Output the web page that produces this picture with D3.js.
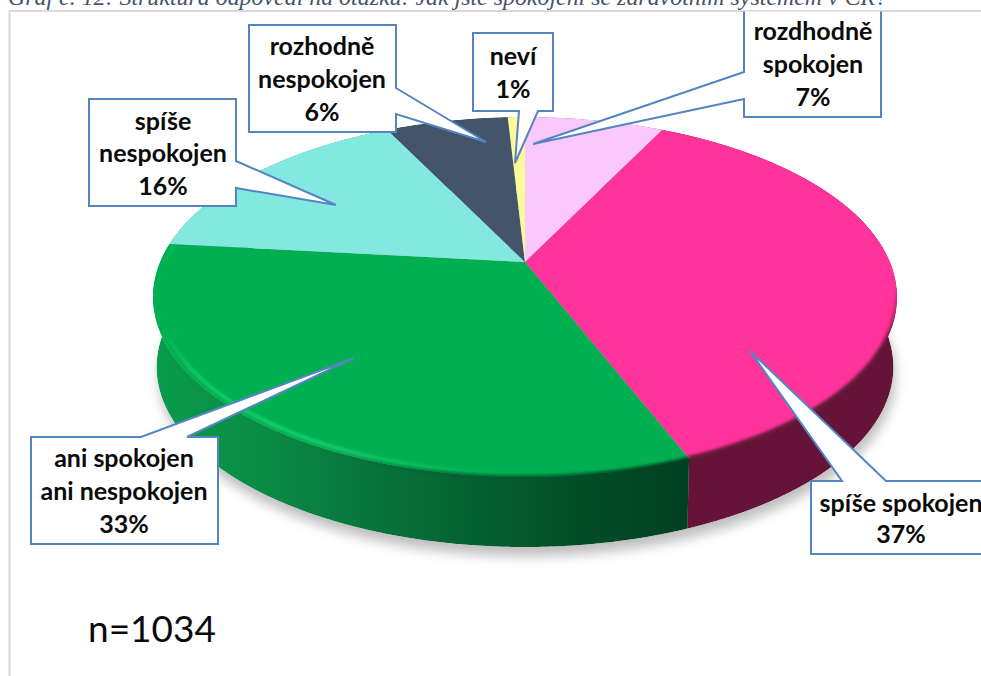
<!DOCTYPE html>
<html lang="cs">
<head>
<meta charset="utf-8">
<title>Graf č. 12</title>
<script src="https://cdn.jsdelivr.net/npm/d3@7"></script>
<style>
  html, body { margin: 0; padding: 0; background: #fff; overflow: hidden; }
  svg { display: block; }
  .box text { font-family: Lato, sans-serif; font-weight: 700; font-size: 25px; fill: #0a0a0a; text-anchor: middle; }
</style>
</head>
<body>
<script>
const categories = ['rozdhodně spokojen', 'spíše spokojen', 'ani spokojen ani nespokojen', 'spíše nespokojen', 'rozhodně nespokojen', 'neví'];
// estimated from the slice boundaries, the labels show them rounded
const percentages = [7.3, 36.7, 32.7, 16.0, 6.4, 0.9];
const sampleSize = 1034;
const chartTitle = 'Graf č. 12: Struktura odpovědí na otázku: Jak jste spokojeni se zdravotním systémem v ČR?';

const width = 981;
const height = 676;

// perspective disc: apex of the pie, half axes and tilt
const apex = { x: 525, y: 262 };
const radiusX = 365;
const radiusY = 173.2;
const tilt = 0.1945;
const depth = 70;

const topColor = d3.scaleOrdinal()
  .domain(categories)
  .range(['#fbc8fb', '#ff3399', '#00b050', '#83e8df', '#44546a', '#fbf99a']);

const sideColor = d3.scaleOrdinal()
  .domain(categories)
  .range(['#7a5a7a', '#651338', 'url(#greenSide)', '#3f7470', '#222a35', '#7d7c4d']);

const project = (angle, k = 1) => {
  const u = Math.sin(angle) * k;
  const v = -Math.cos(angle) * k;
  const w = 1 - tilt * v;
  return [apex.x + (radiusX * u) / w, apex.y + (radiusY * v) / w];
};
const dropped = ([x, y]) => [apex.x + (x - apex.x) * 0.99, y + depth];

const sampleAngles = (a0, a1) => d3.range(a0, a1, 0.01).concat([a1]);
const line = d3.line();
const closed = d3.line().curve(d3.curveLinearClosed);

const slices = d3.pie().sort(null).value((d) => d.value)(
  categories.map((c, i) => ({ name: c, value: percentages[i] })),
);

const svg = d3.select('body')
  .append('svg')
  .attr('width', width)
  .attr('height', height);

const defs = svg.append('defs');

const blur = (id, sd) => defs.append('filter')
  .attr('id', id)
  .attr('filterUnits', 'userSpaceOnUse')
  .attr('x', 0).attr('y', 0)
  .attr('width', width).attr('height', height)
  .append('feGaussianBlur')
  .attr('stdDeviation', sd);
blur('blurShadow', 6);
blur('blurRim', 1.8);

const gradient = (id, coords, stops) => {
  const g = defs.append('linearGradient')
    .attr('id', id)
    .attr('gradientUnits', 'userSpaceOnUse')
    .attr('x1', coords[0]).attr('y1', coords[1])
    .attr('x2', coords[2]).attr('y2', coords[3]);
  stops.forEach(([o, c, a]) => g.append('stop')
    .attr('offset', o)
    .attr('stop-color', c)
    .attr('stop-opacity', a === undefined ? 1 : a));
};
const across = [152, 0, 689, 0];
gradient('greenSide', across, [[0, '#0a9c4c'], [0.2, '#0a8c45'], [0.45, '#06703a'], [0.8, '#024d27'], [1, '#01401f']]);
gradient('greenGlow', across, [[0.02, '#19d46e', 0], [0.08, '#19d46e', 1], [0.3, '#1fdc78'], [0.55, '#14c866', 0.6], [0.75, '#00b050', 0]]);
gradient('greenDark', across, [[0.3, '#06703a', 0], [0.6, '#045c2e', 0.8], [1, '#01401f']]);
gradient('pinkDark', [0, 285, 0, 345], [[0, '#651338', 0], [1, '#651338', 1]]);

// frame of the pasted picture and the cropped caption above it
svg.append('text')
  .attr('x', 8)
  .attr('y', 5)
  .style('font-family', '"Liberation Serif", serif')
  .style('font-style', 'italic')
  .style('font-size', '23.9px')
  .style('fill', '#44546a')
  .text(chartTitle);

svg.append('path')
  .attr('d', line([[9.5, height], [9.5, 11], [width, 11]]))
  .attr('fill', 'none')
  .attr('stroke', '#d9d9d9')
  .attr('stroke-width', 2);

// full outline of the lower disc, for the shadow and clip
const discAngles = sampleAngles(0, 2 * Math.PI);
const topOutline = discAngles.map((a) => project(a));
const bottomOutline = topOutline.map(dropped);

svg.append('path')
  .attr('d', closed(bottomOutline.map(([x, y]) => [x + 2, y + 9])))
  .attr('fill', '#a8a8a8')
  .attr('opacity', 0.75)
  .attr('filter', 'url(#blurShadow)');

const clip = defs.append('clipPath').attr('id', 'pieClip');
clip.append('path').attr('d', closed(topOutline));
clip.append('path').attr('d', closed(bottomOutline));
clip.append('path').attr('d', closed(
  sampleAngles(Math.PI * 0.5, Math.PI * 1.5).map((a) => project(a))
    .concat(sampleAngles(Math.PI * 0.5, Math.PI * 1.5).reverse().map((a) => dropped(project(a)))),
));

const pie = svg.append('g').attr('clip-path', 'url(#pieClip)');

// side walls first, the top faces cover whatever is out of sight
pie.selectAll('.side')
  .data(slices)
  .enter().append('path')
  .attr('class', 'side')
  .attr('d', (d) => {
    const edge = sampleAngles(d.startAngle, d.endAngle).map((a) => project(a));
    return closed(edge.concat(edge.slice().reverse().map(dropped)));
  })
  .attr('fill', (d) => sideColor(d.data.name));

pie.selectAll('.slice')
  .data(slices)
  .enter().append('path')
  .attr('class', 'slice')
  .attr('d', (d) => closed([[apex.x, apex.y]].concat(
    sampleAngles(d.startAngle, d.endAngle).map((a) => project(a)),
  )))
  .attr('fill', (d) => topColor(d.data.name));

// soft bevel where the top face meets the wall
const pink = slices[1];
const green = slices[2];
const rim = (a0, a1, k, stroke, sw) => pie.append('path')
  .attr('d', line(sampleAngles(a0, a1).map((a) => project(a, k))))
  .attr('fill', 'none')
  .attr('stroke', stroke)
  .attr('stroke-width', sw)
  .attr('filter', 'url(#blurRim)');
rim(Math.PI / 2, pink.endAngle, 1.0, 'url(#pinkDark)', 5);
rim(green.startAngle, green.endAngle, 1.002, 'url(#greenDark)', 5);
rim(green.startAngle, green.endAngle, 0.985, 'url(#greenGlow)', 2.5);

// callouts are annotation layout, not chart data
const callouts = [
  { index: 4, lines: ['rozhodně', 'nespokojen'], cx: 322, base: [55, 88, 121],
    shape: [[249, 25], [396, 25], [396, 88], [486, 142], [396, 114], [396, 132], [249, 132]] },
  { index: 0, lines: ['rozdhodně', 'spokojen'], cx: 813, base: [40, 73, 106],
    shape: [[744, 0], [881, 0], [881, 117], [744, 117], [744, 99], [533, 144], [744, 72]] },
  { index: 5, lines: ['neví'], cx: 513, base: [65, 98],
    shape: [[473, 33], [553, 33], [553, 111], [538, 111], [515, 163], [519, 111], [473, 111]] },
  { index: 3, lines: ['spíše', 'nespokojen'], cx: 163, base: [130, 162, 195],
    shape: [[89, 99], [236, 99], [236, 161], [336, 205], [236, 188], [236, 206], [89, 206]] },
  { index: 2, lines: ['ani spokojen', 'ani nespokojen'], cx: 124, base: [467, 500, 533],
    shape: [[31, 437], [141, 437], [354, 358], [187, 437], [218, 437], [218, 544], [31, 544]] },
  { index: 1, lines: ['spíše spokojen'], cx: 901, base: [512, 543],
    shape: [[811, 481], [842, 481], [750, 351], [886, 481], [1000, 481], [1000, 554], [811, 554]] },
];

defs.append('clipPath').attr('id', 'frameClip')
  .append('rect')
  .attr('x', 0).attr('y', 11.5)
  .attr('width', width).attr('height', height);

const box = svg.selectAll('.box')
  .data(callouts)
  .enter().append('g')
  .attr('class', 'box');

box.append('path')
  .attr('clip-path', 'url(#frameClip)')
  .attr('d', (d) => closed(d.shape))
  .attr('fill', '#fff')
  .attr('stroke', '#5585c0')
  .attr('stroke-width', 2)
  .attr('stroke-linejoin', 'miter');

box.selectAll('text')
  .data((d) => d.lines.concat([`${Math.round(percentages[d.index])}%`])
    .map((t, i) => ({ t, x: d.cx, y: d.base[i] })))
  .enter().append('text')
  .attr('x', (d) => d.x)
  .attr('y', (d) => d.y)
  .text((d) => d.t);

svg.append('text')
  .attr('x', 88)
  .attr('y', 642)
  .style('font-family', 'Lato, sans-serif')
  .style('font-size', '37px')
  .style('fill', '#0a0a0a')
  .text(`n=${sampleSize}`);
</script>
</body>
</html>
